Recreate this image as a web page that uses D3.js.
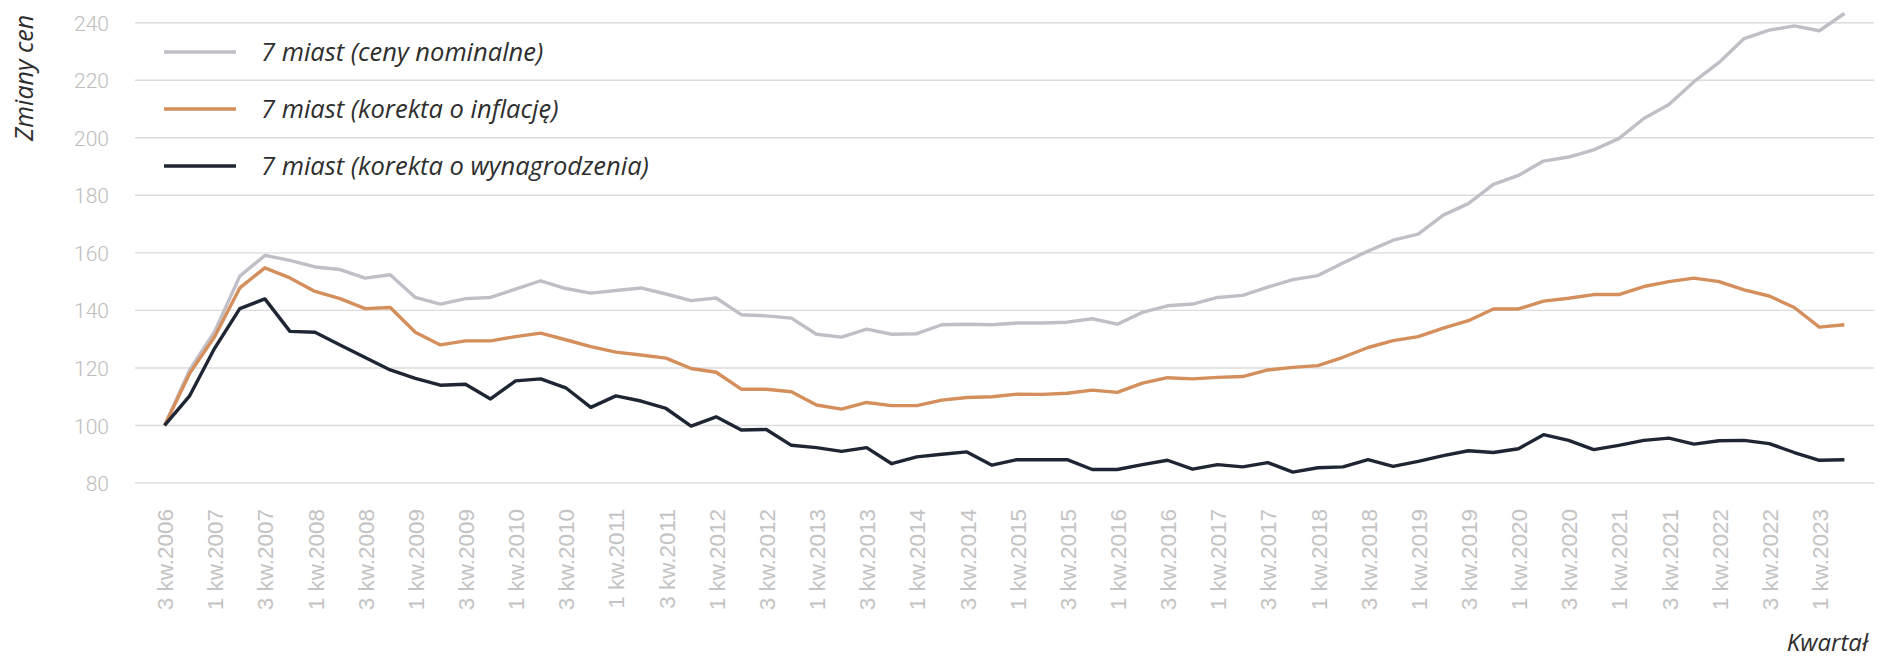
<!DOCTYPE html>
<html>
<head>
<meta charset="utf-8">
<script src="https://cdn.jsdelivr.net/npm/d3@7"></script>
<style>
  html, body { margin: 0; padding: 0; background: #ffffff; }
  svg { display: block; }
</style>
</head>
<body>
<svg id="chart" width="1878" height="662"></svg>
<script>
const quarters = [
  "3 kw.2006","4 kw.2006",
  "1 kw.2007","2 kw.2007","3 kw.2007","4 kw.2007",
  "1 kw.2008","2 kw.2008","3 kw.2008","4 kw.2008",
  "1 kw.2009","2 kw.2009","3 kw.2009","4 kw.2009",
  "1 kw.2010","2 kw.2010","3 kw.2010","4 kw.2010",
  "1 kw.2011","2 kw.2011","3 kw.2011","4 kw.2011",
  "1 kw.2012","2 kw.2012","3 kw.2012","4 kw.2012",
  "1 kw.2013","2 kw.2013","3 kw.2013","4 kw.2013",
  "1 kw.2014","2 kw.2014","3 kw.2014","4 kw.2014",
  "1 kw.2015","2 kw.2015","3 kw.2015","4 kw.2015",
  "1 kw.2016","2 kw.2016","3 kw.2016","4 kw.2016",
  "1 kw.2017","2 kw.2017","3 kw.2017","4 kw.2017",
  "1 kw.2018","2 kw.2018","3 kw.2018","4 kw.2018",
  "1 kw.2019","2 kw.2019","3 kw.2019","4 kw.2019",
  "1 kw.2020","2 kw.2020","3 kw.2020","4 kw.2020",
  "1 kw.2021","2 kw.2021","3 kw.2021","4 kw.2021",
  "1 kw.2022","2 kw.2022","3 kw.2022","4 kw.2022",
  "1 kw.2023","2 kw.2023"
];

const tickLabels = [
  "3 kw.2006","1 kw.2007","3 kw.2007","1 kw.2008","3 kw.2008","1 kw.2009","3 kw.2009",
  "1 kw.2010","3 kw.2010","1 kw.2011","3 kw.2011","1 kw.2012","3 kw.2012","1 kw.2013",
  "3 kw.2013","1 kw.2014","3 kw.2014","1 kw.2015","3 kw.2015","1 kw.2016","3 kw.2016",
  "1 kw.2017","3 kw.2017","1 kw.2018","3 kw.2018","1 kw.2019","3 kw.2019","1 kw.2020",
  "3 kw.2020","1 kw.2021","3 kw.2021","1 kw.2022","3 kw.2022","1 kw.2023"
];

const yTicks = [80, 100, 120, 140, 160, 180, 200, 220, 240];

const nominal = [
  100, 119.3, 132.7, 151.9, 159.1, 157.4, 155.1, 154.2, 151.2, 152.4,
  144.5, 142.2, 144.1, 144.5, 147.4, 150.3, 147.6, 146.0, 146.9, 147.8,
  145.7, 143.4, 144.3, 138.5, 138.1, 137.3, 131.7, 130.7, 133.5, 131.7,
  131.9, 135.0, 135.2, 135.0, 135.6, 135.6, 135.9, 137.1, 135.2, 139.3,
  141.6, 142.2, 144.5, 145.2, 148.1, 150.7, 152.1, 156.5, 160.6, 164.4,
  166.5, 173.1, 177.1, 183.8, 186.9, 191.9, 193.3, 195.8, 199.7, 206.7,
  211.6, 219.5, 226.2, 234.5, 237.4, 238.9, 237.2, 243.2
];

const inflation = [
  100, 118.1, 130.9, 147.8, 154.8, 151.3, 146.6, 144.1, 140.6, 141.0,
  132.4, 128.0, 129.4, 129.4, 130.9, 132.1, 129.8, 127.4, 125.5, 124.5,
  123.4, 119.8, 118.5, 112.6, 112.6, 111.7, 107.1, 105.7, 108.0, 106.9,
  106.9, 108.8, 109.7, 110.0, 110.9, 110.8, 111.2, 112.3, 111.5, 114.7,
  116.6, 116.2, 116.7, 117.0, 119.3, 120.2, 120.8, 123.7, 127.1, 129.5,
  130.9, 133.8, 136.4, 140.5, 140.5, 143.2, 144.2, 145.5, 145.5, 148.3,
  150.0, 151.2, 150.0, 147.1, 145.0, 141.0, 134.2, 135.0
];

const wages = [
  100, 110.3, 126.9, 140.6, 144.0, 132.7, 132.4, 128.0, 123.6, 119.3,
  116.4, 114.0, 114.3, 109.2, 115.5, 116.2, 113.1, 106.3, 110.3, 108.5,
  105.9, 99.8, 103.0, 98.4, 98.6, 93.1, 92.3, 91.0, 92.3, 86.7,
  89.1, 90.0, 90.8, 86.2, 88.1, 88.1, 88.1, 84.7, 84.7, 86.4,
  87.9, 84.8, 86.4, 85.6, 87.1, 83.8, 85.3, 85.6, 88.1, 85.8,
  87.5, 89.5, 91.2, 90.6, 91.9, 96.8, 94.8, 91.6, 93.1, 94.8,
  95.6, 93.5, 94.7, 94.8, 93.7, 90.6, 87.9, 88.1
];

const seriesNames = [
  "7 miast (ceny nominalne)",
  "7 miast (korekta o inflację)",
  "7 miast (korekta o wynagrodzenia)"
];
const seriesColors = ["#c2bec8", "#d48f5d", "#1e2533"];
const seriesValues = [nominal, inflation, wages];

const svg = d3.select("#chart");

const gridLeft = 135, gridRight = 1874;
const x = d3.scalePoint().domain(quarters).range([gridLeft, gridRight]).padding(1.18);
const y = d3.scaleLinear().domain([80, 240]).range([483, 22.7]);

// gridlines
svg.append("g")
  .selectAll("line")
  .data(yTicks)
  .join("line")
  .attr("x1", gridLeft).attr("x2", gridRight)
  .attr("y1", d => y(d)).attr("y2", d => y(d))
  .attr("stroke", "#dcdcdc").attr("stroke-width", 1.4);

// y axis labels
const yAxis = d3.axisLeft(y).tickValues(yTicks).tickSize(0).tickPadding(0);
const gy = svg.append("g").attr("transform", "translate(109,0)").call(yAxis);
gy.select(".domain").remove();
gy.selectAll("text")
  .attr("fill", "#bdbdbd")
  .style("font-family", "Roboto, sans-serif")
  .style("font-weight", 300)
  .style("font-size", "21px")
  .attr("dy", "0.36em");

// x axis labels
const xAxis = d3.axisBottom(x).tickValues(tickLabels).tickSize(0).tickPadding(0);
const gx = svg.append("g").attr("transform", "translate(0,509)").call(xAxis);
gx.select(".domain").remove();
gx.selectAll("text")
  .attr("fill", "#c4c4c4")
  .style("font-family", "'Liberation Sans', Arial, sans-serif")
  .style("font-size", "22.5px")
  .attr("text-anchor", "end")
  .attr("transform", "rotate(-90)")
  .attr("x", 0)
  .attr("y", 0)
  .attr("dx", 0)
  .attr("dy", "0.36em");

// lines
const line = d3.line()
  .x((d, i) => x(quarters[i]))
  .y(d => y(d));

svg.append("g")
  .selectAll("path")
  .data(seriesValues)
  .join("path")
  .attr("d", d => line(d))
  .attr("fill", "none")
  .attr("stroke", (d, i) => seriesColors[i])
  .attr("stroke-width", 3.4)
  .attr("stroke-linejoin", "round")
  .attr("stroke-linecap", "butt");

// legend
const legendY = d3.scalePoint().domain(seriesNames).range([52, 166]);
const lg = svg.append("g");
lg.selectAll("line")
  .data(seriesNames)
  .join("line")
  .attr("x1", 164).attr("x2", 236)
  .attr("y1", d => legendY(d)).attr("y2", d => legendY(d))
  .attr("stroke", (d, i) => seriesColors[i])
  .attr("stroke-width", 3.6);
lg.selectAll("text")
  .data(seriesNames)
  .join("text")
  .attr("x", 261)
  .attr("y", d => legendY(d))
  .attr("dy", "0.35em")
  .attr("fill", "#2e2e2e")
  .style("font-family", "'Open Sans', sans-serif")
  .style("font-style", "italic")
  .style("font-size", "25.5px")
  .text(d => d);

// axis titles
svg.append("text")
  .attr("transform", "translate(33,141) rotate(-90)")
  .attr("text-anchor", "start")
  .attr("fill", "#2e2e2e")
  .style("font-family", "'Open Sans', sans-serif")
  .style("font-style", "italic")
  .style("font-size", "25px")
  .text("Zmiany cen");

svg.append("text")
  .attr("x", 1868)
  .attr("y", 651)
  .attr("text-anchor", "end")
  .attr("fill", "#2e2e2e")
  .style("font-family", "'Open Sans', sans-serif")
  .style("font-style", "italic")
  .style("font-size", "24px")
  .text("Kwartał");
</script>
</body>
</html>
